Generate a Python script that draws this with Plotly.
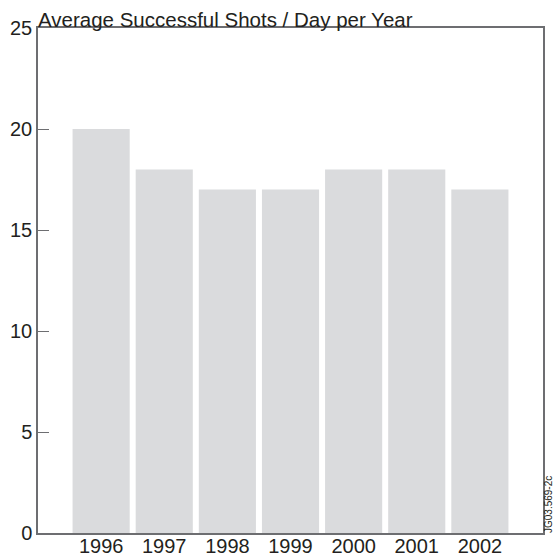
import plotly.graph_objects as go

years = ["1996", "1997", "1998", "1999", "2000", "2001", "2002"]
avg_shots = [20, 18, 17, 17, 18, 18, 17]
y_ticks = [0, 5, 10, 15, 20, 25]

text_color = "#231f20"
axis_color = "#6d6e71"
bar_color = "#dadbdd"
font_family = "Liberation Sans, Arial, sans-serif"

fig = go.Figure(
    go.Bar(
        x=list(range(len(years))),
        y=avg_shots,
        marker=dict(color=bar_color, line=dict(width=0)),
        width=0.905,
    )
)

fig.update_layout(
    width=555,
    height=559,
    margin=dict(l=38, r=12, t=28, b=26),
    paper_bgcolor="white",
    plot_bgcolor="white",
    showlegend=False,
    font=dict(family=font_family, size=20, color=text_color),
)

fig.update_xaxes(
    range=[-1, 7],
    automargin=False,
    tickmode="array",
    tickvals=list(range(len(years))),
    ticktext=years,
    ticks="",
    ticklabelstandoff=-6,
    showgrid=False,
    zeroline=False,
    showline=True,
    linecolor=axis_color,
    linewidth=1.5,
    mirror=True,
    fixedrange=True,
)

fig.update_yaxes(
    range=[0, 25],
    automargin=False,
    tickmode="array",
    tickvals=y_ticks,
    ticks="inside",
    ticklen=11,
    tickwidth=1.2,
    tickcolor=axis_color,
    ticklabelstandoff=0,
    showgrid=False,
    zeroline=False,
    showline=True,
    linecolor=axis_color,
    linewidth=1.5,
    mirror=True,
    fixedrange=True,
)

# Chart title, sitting just above the top-left corner of the frame
fig.add_annotation(
    text="Average Successful Shots / Day per Year",
    xref="paper", yref="paper",
    x=0, y=1,
    xanchor="left", yanchor="bottom",
    showarrow=False,
    font=dict(size=20.5, color=text_color, family=font_family),
    xshift=-2, yshift=-5,
)

# Figure reference code along the right edge
fig.add_annotation(
    text="JG03.569-2c",
    xref="paper", yref="paper",
    x=1, y=0,
    xanchor="right", yanchor="bottom",
    textangle=-90,
    showarrow=False,
    borderpad=0,
    font=dict(size=10, color=text_color, family=font_family),
    xshift=12, yshift=-1,
)

fig.write_html("out.html")
